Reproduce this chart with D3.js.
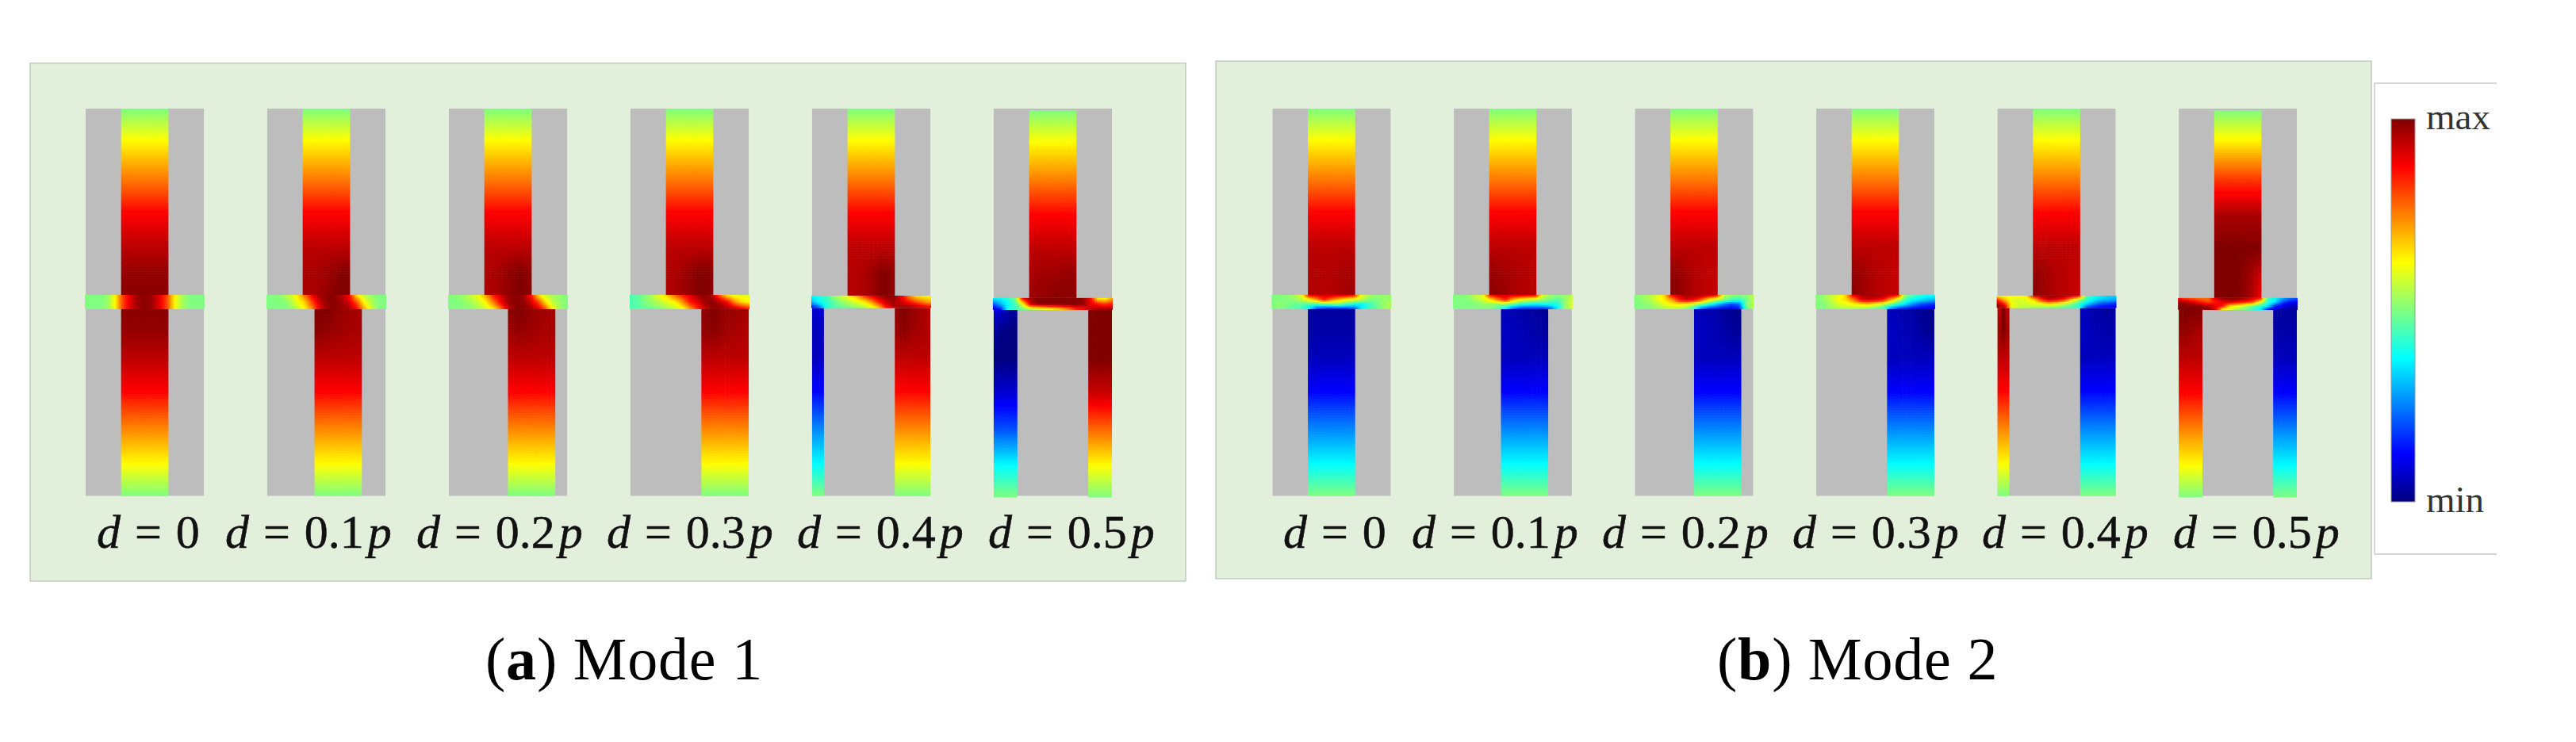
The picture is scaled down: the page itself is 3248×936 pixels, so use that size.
<!DOCTYPE html>
<html>
<head>
<meta charset="utf-8">
<script src="https://cdn.jsdelivr.net/npm/d3@7"></script>
<style>
  html, body { margin: 0; background: #fff; }
  svg { display: block; }
  text { font-family: "Liberation Serif", serif; }
</style>
</head>
<body>
<svg id="chart" width="3248" height="936"></svg>
<script>
// Offsets between the two waveguides, as a fraction of the period p.
const offsets = [0, 0.1, 0.2, 0.3, 0.4, 0.5];
const offsetLabels = ['0', '0.1', '0.2', '0.3', '0.4', '0.5'];
const panelCaptions = ['Mode 1', 'Mode 2'];
const panelLetters = ['a', 'b'];
const colorbarLabels = ['min', 'max'];

// Field level (0 = min, 100 = max) along a guide, free end towards the slab.
const guideDepths = [0, 0.17, 0.37, 0.56, 0.74, 0.88, 1];
const hot = [50, 62.5, 75, 87.5, 94];
const cold = [50, 37.5, 25, 12.5, 6];
const hotDeep = [50, 62.5, 78, 93, 100];
const coldDeep = [50, 37.5, 20, 8, 0];
const hotUpperDeep = [50, 64, 82, 96, 100];

const mode1UpperProfiles = [hot, hot, hot, hot, hot, hot];
const mode1LowerProfiles = [hot, hot, hot, hot, hot, hotDeep];
const mode1WrapProfiles = [null, null, null, null, cold, coldDeep];
const mode2UpperProfiles = [hot, hot, hot, hot, hot, hotUpperDeep];
const mode2LowerProfiles = [cold, cold, cold, cold, cold, cold];
const mode2WrapProfiles = [null, null, null, null, hot, hot];

// Last two rows of each guide, next to the slab, five samples across the guide.
const mode1UpperEnds = [
  [[98, 98, 98, 98, 98], [99, 99, 99, 99, 99]],
  [[96, 96, 97, 99, 100], [96, 96, 98, 100, 100]],
  [[95, 96, 98, 100, 98], [95, 96, 98, 100, 99]],
  [[95, 96, 98, 100, 99], [95, 96, 98, 100, 99]],
  [[95, 95, 97, 100, 98], [95, 95, 97, 100, 98]],
  [[96, 97, 97, 98, 98], [97, 98, 99, 99, 99]]
];
const mode1LowerEnds = [
  [[98, 98, 98, 98, 98], [99, 99, 99, 99, 99]],
  [[99, 98, 97, 96, 96], [100, 100, 98, 97, 96]],
  [[97, 98, 97, 96, 96], [99, 100, 98, 97, 96]],
  [[98, 99, 97, 96, 95], [98, 100, 98, 97, 96]],
  [[97, 99, 97, 96, 95], [98, 100, 98, 96, 95]],
  [[100, 100, 100, 100, 100], [100, 100, 100, 100, 100]]
];
const mode1WrapEnds = [null, null, null, null,
  [[6, 6, 6, 6, 6], [8, 8, 8, 8, 8]],
  [[3, 1, 0, 0, 0], [10, 8, 6, 3, 2]]
];
const mode2UpperEnds = [
  [[95, 95, 95, 96, 96], [95, 95, 95, 96, 97]],
  [[98, 97, 96, 95, 94], [99, 98, 96, 95, 94]],
  [[99, 97, 95, 94, 93], [100, 98, 95, 94, 93]],
  [[98, 97, 95, 94, 93], [99, 97, 95, 94, 93]],
  [[98, 97, 95, 94, 93], [99, 97, 95, 94, 93]],
  [[100, 100, 100, 97, 92], [100, 100, 100, 97, 88]]
];
const mode2LowerEnds = [
  [[4, 4, 4, 4, 4], [4, 3, 3, 3, 3]],
  [[7, 6, 5, 4, 3], [6, 5, 4, 3, 2]],
  [[7, 6, 5, 3, 2], [6, 5, 4, 2, 1]],
  [[7, 6, 5, 3, 1], [6, 5, 4, 2, 1]],
  [[7, 6, 5, 4, 4], [6, 5, 4, 3, 3]],
  [[4, 4, 4, 4, 5], [3, 3, 3, 3, 3]]
];
const mode2WrapEnds = [null, null, null, null,
  [[95, 98, 100, 98, 95], [92, 95, 100, 95, 92]],
  [[98, 98, 97, 96, 96], [100, 100, 100, 100, 100]]
];

// Slab between the guides: rows top to bottom, 17 samples across one period.
const mode1Slabs = [
  [[50, 50, 50, 52, 62, 80, 90, 97, 99, 97, 90, 80, 63, 54, 50, 50, 50],
   [50, 50, 50, 52, 62, 80, 90, 97, 99, 97, 90, 80, 63, 54, 50, 50, 50],
   [50, 50, 50, 52, 62, 80, 90, 97, 99, 97, 90, 80, 63, 54, 50, 50, 50]],
  [[50, 50, 52, 57, 63, 76, 88, 96, 99, 99, 95, 88, 65, 56, 52, 50, 50],
   [50, 50, 50, 53, 60, 66, 80, 92, 98, 99, 97, 92, 80, 63, 55, 50, 50],
   [50, 50, 50, 50, 55, 62, 72, 88, 97, 99, 98, 96, 88, 72, 58, 50, 50]],
  [[50, 51, 53, 57, 62, 72, 85, 92, 97, 99, 97, 88, 66, 57, 54, 52, 50],
   [50, 50, 51, 54, 57, 63, 75, 88, 97, 99, 99, 92, 82, 66, 56, 52, 50],
   [50, 50, 50, 51, 54, 58, 63, 75, 92, 99, 99, 98, 92, 80, 62, 54, 50]],
  [[45, 47, 50, 55, 62, 68, 78, 85, 90, 97, 99, 95, 78, 64, 60, 60, 58],
   [45, 46, 50, 53, 56, 60, 63, 72, 85, 90, 97, 99, 95, 88, 74, 66, 63],
   [46, 46, 47, 48, 50, 53, 56, 60, 70, 82, 92, 98, 99, 97, 95, 90, 85]],
  [[38, 40, 44, 52, 58, 63, 70, 82, 90, 95, 99, 99, 90, 75, 65, 63, 62],
   [30, 38, 42, 47, 52, 56, 60, 64, 72, 85, 93, 97, 92, 86, 80, 74, 70],
   [12, 20, 40, 44, 46, 48, 50, 53, 58, 66, 85, 94, 98, 99, 97, 93, 90]],
  [[38, 38, 42, 50, 90, 98, 99, 99, 99, 99, 99, 99, 99, 88, 62, 60, 72],
   [20, 30, 38, 44, 62, 92, 99, 100, 100, 100, 100, 100, 98, 90, 85, 82, 85],
   [8, 12, 40, 44, 46, 48, 50, 54, 58, 62, 70, 80, 86, 94, 98, 99, 99]]
];
const mode2Slabs = [
  [[50, 50, 52, 54, 60, 90, 92, 92, 93, 93, 92, 88, 62, 55, 52, 52, 53],
   [50, 50, 50, 52, 56, 62, 72, 85, 75, 68, 62, 60, 55, 50, 50, 52, 53],
   [50, 52, 50, 48, 46, 44, 42, 44, 46, 48, 42, 38, 36, 42, 48, 52, 55],
   [50, 50, 48, 46, 44, 35, 18, 14, 12, 12, 14, 18, 36, 44, 48, 52, 55]],
  [[50, 50, 52, 56, 60, 88, 92, 92, 92, 93, 92, 90, 60, 54, 52, 52, 55],
   [50, 50, 50, 54, 58, 64, 75, 85, 70, 62, 58, 56, 52, 48, 46, 52, 58],
   [50, 50, 50, 50, 52, 52, 50, 50, 46, 40, 38, 36, 38, 38, 40, 52, 60],
   [50, 50, 50, 50, 50, 50, 46, 36, 20, 15, 14, 15, 14, 20, 38, 52, 58]],
  [[50, 52, 55, 58, 66, 88, 94, 96, 96, 96, 94, 90, 58, 54, 52, 52, 56],
   [50, 52, 54, 60, 64, 72, 85, 92, 88, 78, 64, 56, 50, 44, 42, 48, 56],
   [50, 50, 52, 55, 60, 62, 64, 62, 56, 48, 40, 32, 24, 18, 22, 50, 56],
   [50, 50, 50, 52, 54, 56, 54, 50, 40, 20, 14, 12, 12, 12, 14, 46, 55]],
  [[50, 52, 56, 60, 66, 90, 96, 97, 97, 96, 93, 90, 52, 46, 42, 40, 40],
   [50, 52, 56, 62, 66, 74, 88, 92, 90, 86, 72, 58, 44, 38, 35, 32, 30],
   [50, 50, 54, 58, 60, 62, 64, 66, 62, 56, 48, 40, 34, 26, 20, 18, 16],
   [50, 50, 52, 54, 54, 54, 52, 50, 46, 44, 25, 16, 12, 10, 10, 10, 10]],
  [[62, 62, 62, 63, 65, 90, 97, 98, 98, 97, 92, 88, 46, 40, 36, 34, 34],
   [85, 70, 60, 58, 60, 66, 82, 92, 88, 82, 66, 52, 42, 36, 32, 30, 28],
   [98, 85, 62, 58, 58, 60, 62, 66, 62, 56, 50, 42, 34, 26, 20, 18, 16],
   [99, 98, 60, 56, 54, 52, 50, 48, 48, 46, 44, 42, 16, 12, 10, 10, 10]],
  [[85, 80, 78, 76, 76, 92, 99, 100, 100, 98, 92, 88, 44, 38, 30, 24, 22],
   [97, 95, 90, 85, 80, 85, 90, 92, 88, 85, 80, 62, 42, 36, 20, 14, 12],
   [100, 100, 100, 99, 96, 90, 85, 66, 62, 55, 48, 42, 36, 16, 10, 6, 5],
   [100, 100, 100, 100, 100, 90, 60, 56, 52, 48, 42, 36, 12, 6, 4, 4, 3]]
];

// layout
const panels = [
  {x: 38, y: 79.5, w: 1457, h: 653.5, range: [108, 1402], labelX: [122, 284, 525, 765, 1005, 1246], captionX: 612},
  {x: 1533, y: 77, w: 1457, h: 653, range: [1604.5, 2896], labelX: [1618, 1780, 2020, 2260, 2499, 2740], captionX: 2165}
];
const guideWidth = 0.4;
const slabTop = [0.481, 0.481, 0.481, 0.481, 0.483, 0.489];
const slabBottom = [0.518, 0.518, 0.518, 0.518, 0.515, 0.52];
const endOvershoot = [0, 0, 0, 0, 0, 0.004];

const jet = d3.scaleLinear()
  .domain([0, 12.5, 37.5, 62.5, 87.5, 100])
  .range(['#000080', '#0000ff', '#00ffff', '#ffff00', '#ff0000', '#800000']);

const svg = d3.select('#chart');
const y = d3.scaleLinear().domain([0, 1]).range([137, 625.5]);

const defs = svg.append('defs');
defs.append('filter').attr('id', 'soft')
  .attr('x', '-2%').attr('width', '104%').attr('y', '-2%').attr('height', '104%')
  .append('feGaussianBlur').attr('stdDeviation', 0.7);

// Value at (u, v) in a grid whose rows sit at rowPos and whose columns are even.
function sampleGrid(grid, rowPos, u, v) {
  const r = Math.min(d3.bisectRight(rowPos, v), rowPos.length - 1);
  const r0 = Math.max(r - 1, 0);
  const tr = rowPos[r] === rowPos[r0] ? 0 : (v - rowPos[r0]) / (rowPos[r] - rowPos[r0]);
  const n = grid[0].length - 1;
  const c0 = Math.min(Math.floor(u * n), n - 1);
  const tc = u * n - c0;
  const at = row => row[c0] + (row[c0 + 1] - row[c0]) * tc;
  return at(grid[r0]) + (at(grid[r]) - at(grid[r0])) * tr;
}

function drawField(g, x0, x1, y0, y1, grid, rowPos, stepX, stepY, flip) {
  const nx = Math.max(1, Math.ceil((x1 - x0) / stepX));
  const ny = Math.ceil((y1 - y0) / stepY);
  const cw = (x1 - x0) / nx, ch = (y1 - y0) / ny;
  const cells = d3.cross(d3.range(nx), d3.range(ny));
  g.append('g').selectAll('rect').data(cells).join('rect')
    .attr('x', d => x0 + d[0] * cw)
    .attr('y', d => y0 + d[1] * ch)
    .attr('width', d => cw + (d[0] < nx - 1 ? 0.6 : 0))
    .attr('height', d => ch + (d[1] < ny - 1 ? 0.6 : 0))
    .attr('fill', d => {
      const v = (d[1] + 0.5) / ny;
      return jet(sampleGrid(grid, rowPos, (d[0] + 0.5) / nx, flip ? 1 - v : v));
    });
}

const guideGrid = (profile, ends) => profile.map(v => [v, v, v, v, v]).concat(ends);

function drawPanel(panel, upperProfiles, upperEnds, lowerProfiles, lowerEnds, wrapProfiles, wrapEnds, slabs, caption, letter) {
  const root = svg.append('g');
  root.append('rect')
    .attr('x', panel.x).attr('y', panel.y).attr('width', panel.w).attr('height', panel.h)
    .attr('fill', '#e2efda').attr('stroke', '#b7c0b0').attr('stroke-width', 1.2);

  const column = d3.scaleBand().domain(offsetLabels).range(panel.range).paddingInner(0.349);
  const cells = root.append('g').attr('filter', 'url(#soft)');

  offsets.forEach((d, i) => {
    const x = d3.scaleLinear().domain([0, 1])
      .range([column(offsetLabels[i]), column(offsetLabels[i]) + column.bandwidth()]);
    const g = cells.append('g');
    g.append('rect')
      .attr('x', x(0)).attr('y', y(0)).attr('width', x(1) - x(0)).attr('height', y(1) - y(0))
      .attr('fill', '#bdbdbd');

    // upper guide is centred in the period, the lower one is shifted by d and wraps
    const left = 0.5 - guideWidth / 2, right = 0.5 + guideWidth / 2;
    drawField(g, x(left), x(right), y(endOvershoot[i]), y(slabTop[i]),
      guideGrid(upperProfiles[i], upperEnds[i]), guideDepths, 5, 3, false);
    drawField(g, x(left + d), x(Math.min(right + d, 1)), y(slabBottom[i]), y(1 + endOvershoot[i]),
      guideGrid(lowerProfiles[i], lowerEnds[i]), guideDepths, 5, 3, true);
    if (right + d > 1.001) {
      drawField(g, x(0), x(right + d - 1), y(slabBottom[i]), y(1 + endOvershoot[i]),
        guideGrid(wrapProfiles[i], wrapEnds[i]), guideDepths, 5, 3, true);
    }

    const slabRows = d3.range(slabs[i].length).map(r => r / (slabs[i].length - 1));
    drawField(g, x(0) - 1, x(1) + 1, y(slabTop[i]), y(slabBottom[i]), slabs[i], slabRows, 2, 2, false);

    const label = root.append('text')
      .attr('x', panel.labelX[i]).attr('y', 691)
      .attr('font-size', 60).attr('fill', '#111').attr('stroke', '#111').attr('stroke-width', 0.5);
    label.append('tspan').attr('font-style', 'italic').text('d');
    label.append('tspan').attr('dx', 18).text('=');
    label.append('tspan').attr('dx', 18).text(offsetLabels[i]);
    if (d > 0) label.append('tspan').attr('dx', 5).attr('font-style', 'italic').text('p');
  });

  const cap = root.append('text')
    .attr('x', panel.captionX).attr('y', 857)
    .attr('font-size', 76).attr('letter-spacing', 0.8).attr('fill', '#000');
  cap.append('tspan').text('(');
  cap.append('tspan').attr('font-weight', 'bold').text(letter);
  cap.append('tspan').text(') ' + caption);
}

drawPanel(panels[0], mode1UpperProfiles, mode1UpperEnds, mode1LowerProfiles, mode1LowerEnds,
  mode1WrapProfiles, mode1WrapEnds, mode1Slabs, panelCaptions[0], panelLetters[0]);
drawPanel(panels[1], mode2UpperProfiles, mode2UpperEnds, mode2LowerProfiles, mode2LowerEnds,
  mode2WrapProfiles, mode2WrapEnds, mode2Slabs, panelCaptions[1], panelLetters[1]);

// colour bar, box is open on its right side
svg.append('path')
  .attr('d', d3.line()([[3148, 105], [2994, 105], [2994, 699], [3148, 699]]))
  .attr('fill', 'none').attr('stroke', '#c8c8c8').attr('stroke-width', 1.4);

const grad = defs.append('linearGradient').attr('id', 'jet')
  .attr('x1', 0).attr('x2', 0).attr('y1', 1).attr('y2', 0);
grad.selectAll('stop').data(jet.domain()).join('stop')
  .attr('offset', d => d / 100)
  .attr('stop-color', d => jet(d));

const barScale = d3.scaleLinear().domain([0, 100]).range([633, 150]);
svg.append('rect')
  .attr('x', 3015).attr('y', barScale(100)).attr('width', 30).attr('height', barScale(0) - barScale(100))
  .attr('fill', 'url(#jet)').attr('stroke', '#999').attr('stroke-width', 1);

const barAxis = d3.axisRight(barScale)
  .tickValues([0, 100])
  .tickSize(0)
  .tickPadding(14)
  .tickFormat((d, i) => colorbarLabels[i]);
svg.append('g').attr('transform', 'translate(3045,0)').call(barAxis)
  .call(g => g.select('.domain').remove())
  .selectAll('text')
  .attr('font-family', '"Liberation Serif", serif')
  .attr('font-size', 47)
  .attr('fill', '#333')
  .attr('dy', '0.27em');
</script>
</body>
</html>
